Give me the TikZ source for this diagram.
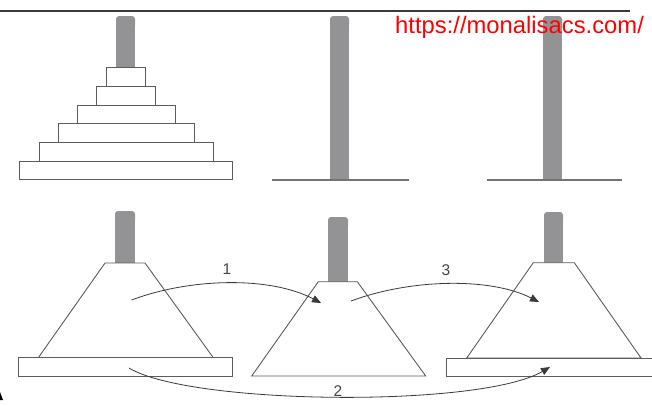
\documentclass[tikz,border=0pt]{standalone}
\usepackage{fontspec}
\setmainfont{Liberation Sans}
\usetikzlibrary{arrows.meta}
\definecolor{edge}{HTML}{5C5C5C}
\definecolor{pegfill}{HTML}{939396}
\definecolor{wire}{HTML}{3A3A3A}
\definecolor{digit}{HTML}{444444}
% rod of a peg: left x, right x, top y, bottom y
\newcommand\pegrod[4]{%
  \fill[pegfill,rounded corners=3pt] (#1,#3) rectangle (#2,#3+12);
  \fill[pegfill] (#1,#3+6) rectangle (#2,#4);}
\begin{document}
\begin{tikzpicture}[x=1pt,y=-1pt,
  outline/.style={draw=edge,line width=0.9pt,fill=white},
  floorline/.style={draw=edge!85,line width=1.1pt},
  disk/.style={outline,rectangle,inner sep=0pt,outer sep=0pt,minimum height=18.7pt},
  move/.style={draw=wire,line width=0.8pt,-{Triangle[length=9pt,width=7.5pt]}},
  stepno/.style={text=digit,font=\fontsize{15.5}{18}\selectfont,inner sep=0pt}]
\useasboundingbox (0,0) rectangle (652,405);

% rule across the top
\draw[line width=2pt,draw=wire] (0,11) -- (630,11);

% ---- starting position: full stack on the first peg ----
\pegrod{116}{135}{16}{69}
\node[disk,minimum width=39pt]  (d1) at (126,77.05)  {};
\node[disk,minimum width=59pt]  (d2) at (126,95.75)  {};
\node[disk,minimum width=98pt]  (d3) at (126,114.45) {};
\node[disk,minimum width=136pt] (d4) at (126,133.15) {};
\node[disk,minimum width=174pt] (d5) at (126,151.85) {};
\node[disk,minimum width=213pt] (d6) at (126,170.55) {};

\pegrod{330}{349}{16}{180}
\draw[floorline] (272,180) -- (409,180);
\pegrod{543}{562}{16}{180}
\draw[floorline] (487,180) -- (622,180);

% ---- the three moves ----
% left peg: tower of the top disks plus the largest disk
\pegrod{115}{135}{211}{263}
\draw[outline] (105,263) -- (145,263) -- (213.3,357.7) -- (38.3,357.7) -- cycle;
\draw[outline] (18.5,357.7) rectangle (232.3,376.5);
% middle peg: tower only
\pegrod{328}{348}{217}{282}
\draw[outline] (318.3,281.7) -- (357.3,281.7) -- (425.7,376) -- (251.7,376) -- cycle;
% right peg: largest disk under the tower
\pegrod{544}{563}{212}{263}
\draw[outline] (533.3,262.7) -- (574.3,262.7) -- (641,358) -- (466.7,358) -- cycle;
\draw[outline] (446,358) rectangle (660,376.7);

\coordinate (s1) at (131.5,300);
\coordinate (e1) at (321,303);
\coordinate (s3) at (351,301);
\coordinate (e3) at (539,302);
\coordinate (s2) at (129,368);
\coordinate (e2) at (550,367);

\draw[move] (s1) .. controls (190,278) and (270,276) .. (e1);
\draw[move] (s3) .. controls (410,279) and (490,277) .. (e3);
\draw[move] (s2) .. controls (190,405) and (480,408) .. (e2);

\node[stepno] (n1) at (227,269) {1};
\node[stepno] (n3) at (446,270) {3};
\node[stepno] (n2) at (338,391) {2};

% mark in the lower left corner
\fill[black] (0,392) -- (3,400) -- (0,400) -- cycle;

\node[anchor=base west,inner sep=0pt,text=red,font=\fontsize{23.8}{28}\selectfont] (url) at (395,33.3) {https://monalisacs.com/};
\end{tikzpicture}
\end{document}
